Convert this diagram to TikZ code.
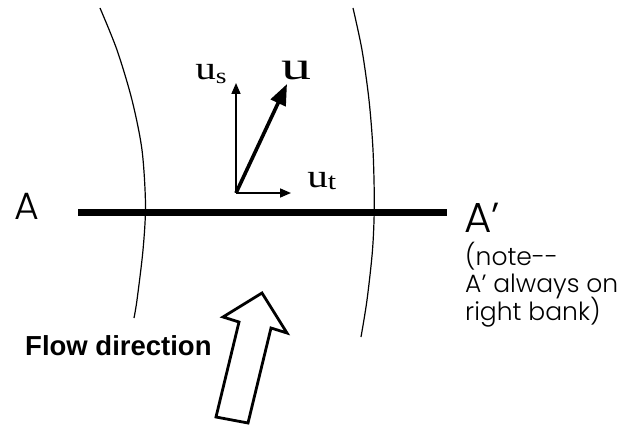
\documentclass[tikz,border=0pt]{standalone}
\usepackage{fontspec}
\setmainfont{Liberation Serif}
\newfontfamily\lsans{Liberation Sans}
\newfontfamily\geo{Poppins}[UprightFont=* Light]
\usetikzlibrary{arrows.meta}
\tikzset{
  bank/.style={line width=1.2pt},
  thinvec/.style={line width=1.6pt,-{Triangle[length=11pt,width=9pt]}},
  bigvec/.style={line width=3.6pt,-{Triangle[length=21pt,width=16pt]}},
  section/.style={line width=7pt},
  flowarrow/.style={line width=2.8pt,line join=miter},
  lbl/.style={inner sep=0pt,anchor=base west},
  geolbl/.style={lbl,font=\geo},
}
\begin{document}
\begin{tikzpicture}[x=1pt,y=-1pt]
\useasboundingbox (0,0) rectangle (626,425);
% banks
\draw[bank] plot[smooth] coordinates {(100,8) (117,50) (132,100) (142,150) (145.5,205) (143,250) (137,300) (134,318)};
\draw[bank] plot[smooth] coordinates {(353,8) (362,50) (369,100) (373,150) (374.3,205) (372.5,250) (367,300) (361,337)};
% cross section A-A'
\coordinate (secA) at (78,212);
\coordinate (secB) at (447,212);
\draw[section] (secA) -- (secB);
\node[geolbl,font=\geo\fontsize{38}{40}\selectfont] (A) at (14,219.5) {A};
\node[geolbl,font=\geo\fontsize{42}{44}\selectfont] (Ap) at (464,232) {A’};
\node[geolbl,font=\geo\fontsize{25}{27}\selectfont] (n1) at (465,265) {(note--};
\node[geolbl,font=\geo\fontsize{25}{27}\selectfont] (n2) at (465,292.5) {A’ always on};
\node[geolbl,font=\geo\fontsize{25}{27}\selectfont] (n3) at (465,320) {right bank)};
% velocity vectors
\coordinate (o) at (236,193);
\coordinate (ustip) at (236,83);
\coordinate (uttip) at (291,193);
\coordinate (Utip) at (287,84);
\draw[thinvec] (o) -- (ustip);
\draw[thinvec] (o) -- (uttip);
\draw[bigvec] (o) -- (Utip);
\node[lbl,font=\fontsize{40}{40}\selectfont,xscale=1.5] (U) at (281,80) {u};
\node[lbl,font=\fontsize{33}{33}\selectfont,xscale=1.25] (us) at (195,80) {u\raisebox{-4pt}{\fontsize{22}{22}\selectfont s}};
\node[lbl,font=\fontsize{33}{33}\selectfont,xscale=1.25] (ut) at (307,187) {u\raisebox{-2pt}{\fontsize{24}{24}\selectfont t}};
% flow direction
\node[lbl,font=\lsans\bfseries\fontsize{27.5}{30}\selectfont] (flow) at (25,355.5) {Flow direction};
\draw[flowarrow] (262,293) -- (287,333) -- (271,328) -- (248,423) -- (216,417) -- (239,322) -- (223,317) -- cycle;
\end{tikzpicture}
\end{document}
